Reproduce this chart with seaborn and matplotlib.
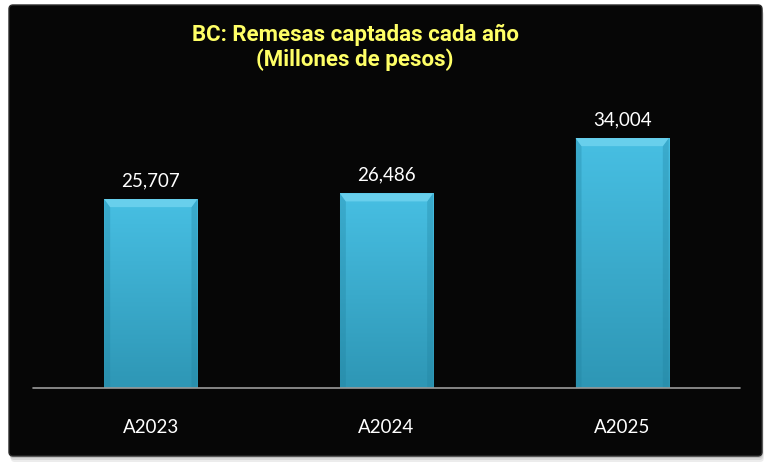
import numpy as np
import pandas as pd
import matplotlib
matplotlib.use("Agg")
import matplotlib.pyplot as plt
import seaborn as sns
from matplotlib.patches import FancyBboxPatch, Polygon

# Data
years = ['A2023', 'A2024', 'A2025']
remesas = [25707, 26486, 34004]

df = pd.DataFrame({'anio': years, 'remesas': remesas})

sns.set_theme(style='dark')
plt.rcParams['font.family'] = ['Lato', 'DejaVu Sans']

fig = plt.figure(figsize=(7.71, 4.70), dpi=100)
fig.patch.set_facecolor('white')

# background axes holding the black panel (pixel coordinates)
bg = fig.add_axes([0, 0, 1, 1], zorder=-10)
# drop shadow
for off, col in [(6, '#ececec'), (4, '#d8d8d8'), (2, '#bdbdbd')]:
    bg.add_patch(FancyBboxPatch((9 + off * 0.3, 5 + off), 753, 451,
                                boxstyle='round,pad=0,rounding_size=4',
                                facecolor=col, edgecolor='none'))
bg.add_patch(FancyBboxPatch((9, 5), 753, 451,
                            boxstyle='round,pad=0,rounding_size=4',
                            facecolor='#060606', edgecolor='#2a2a2a',
                            linewidth=1.0))
# soft grey bevel at the top of the panel
top_shade = np.linspace(0.40, 0.03, 20).reshape(-1, 1)
bg.imshow(np.dstack([top_shade] * 3), aspect='auto',
          extent=[11, 760, 22, 6])
bg.set_xlim(0, 771)
bg.set_ylim(470, 0)
bg.axis('off')

ax = fig.add_axes([33 / 771, 82 / 470, 707 / 771, 294 / 470])
ax.set_facecolor('none')

sns.barplot(data=df, x='anio', y='remesas', ax=ax, width=0.395,
            color='#3db5da', saturation=1, edgecolor='none', zorder=2)

# vertical gradient inside each bar
grad = np.linspace(0, 1, 256)
top_c = np.array([0.28, 0.75, 0.89])
bot_c = np.array([0.18, 0.59, 0.71])
rgb = (top_c[None, :] * (1 - grad)[:, None] + bot_c[None, :] * grad[:, None])
rgb = rgb.reshape(256, 1, 3)
bev_h = 1100   # bevel height in data units (~8 px)
bev_w = 0.025  # bevel width in category units (~6 px)
for bar in list(ax.patches):
    x0, w, h = bar.get_x(), bar.get_width(), bar.get_height()
    im = ax.imshow(rgb, aspect='auto', extent=[x0, x0 + w, 0, h],
                   origin='upper', zorder=3)
    im.set_clip_path(bar)
    # darker side bevels
    for pts in ([(x0, 0), (x0 + bev_w, 0), (x0 + bev_w, h - bev_h), (x0, h)],
                [(x0 + w, 0), (x0 + w - bev_w, 0),
                 (x0 + w - bev_w, h - bev_h), (x0 + w, h)]):
        ax.add_patch(Polygon(pts, closed=True, facecolor='#1f7f9c',
                             alpha=0.3, edgecolor='none', zorder=4))
    # lighter top bevel
    ax.add_patch(Polygon([(x0, h), (x0 + w, h), (x0 + w - bev_w, h - bev_h),
                          (x0 + bev_w, h - bev_h)], closed=True,
                         facecolor='#68cfec', edgecolor='none', zorder=4))

for i, v in enumerate(remesas):
    ax.text(i, v + 1300, f'{v:,}', ha='center', va='bottom',
            color='white', fontsize=13.5)

ax.set_xlim(-0.5, 2.5)
ax.set_ylim(0, 40000)
ax.axhline(0, color='#9a9a9a', lw=1.2, zorder=5, clip_on=False)
ax.set_yticks([])
ax.set_xlabel('')
ax.set_ylabel('')
ax.tick_params(axis='x', colors='white', labelsize=13.5, pad=22, length=0)
ax.grid(False)
for s in ax.spines.values():
    s.set_visible(False)

title_font = ['Roboto', 'DejaVu Sans']
fig.text(355 / 771, 1 - 35 / 470, 'BC: Remesas captadas cada año',
         ha='center', va='center', color='#ffff66', fontsize=16,
         fontweight='bold', family=title_font)
fig.text(355 / 771, 1 - 60 / 470, '(Millones de pesos)',
         ha='center', va='center', color='#ffff66', fontsize=16,
         fontweight='bold', family=title_font)

fig.savefig('out.png', dpi=100, facecolor=fig.get_facecolor())
